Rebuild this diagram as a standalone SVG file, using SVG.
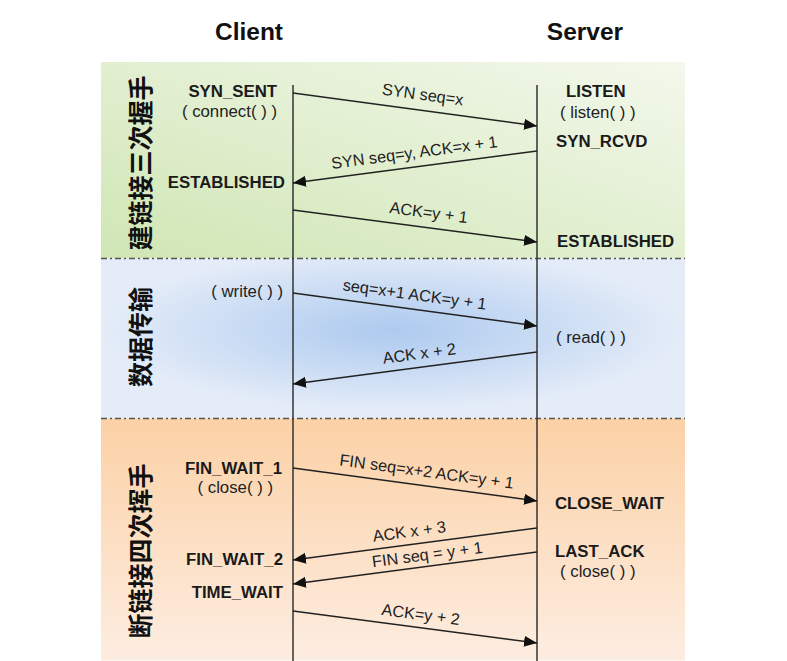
<svg xmlns="http://www.w3.org/2000/svg" width="787" height="661" viewBox="0 0 787 661">
<style>
.title{font-family:"Liberation Sans",Arial,sans-serif;font-size:24.5px;font-weight:bold;fill:#111;text-anchor:middle}
.st{font-family:"Liberation Sans",Arial,sans-serif;font-size:16.8px;font-weight:bold;fill:#1a1a1a}
.fn{font-family:"Liberation Sans",Arial,sans-serif;font-size:16.8px;fill:#222}
.lbl{font-family:"Liberation Sans",Arial,sans-serif;font-size:16.3px;fill:#222;text-anchor:middle}
.cjk{font-family:"Noto Sans CJK SC","Noto Sans CJK TC",sans-serif;font-size:25px;font-weight:bold;fill:#111;text-anchor:middle;dominant-baseline:central}
.end{text-anchor:end}
.msg{stroke:#222;stroke-width:1.5;fill:none;marker-end:url(#ah)}
.life{stroke:#333;stroke-width:1.5}
.sep{stroke:#555;stroke-width:1.3;stroke-dasharray:6 3 2 3}
</style>
<defs>
<marker id="ah" markerUnits="userSpaceOnUse" markerWidth="14" markerHeight="12" refX="13" refY="5.5" orient="auto">
<path d="M0,0 L13,5.5 L0,11 z" fill="#111"/>
</marker>
<linearGradient id="gGreen" x1="1" y1="0" x2="0" y2="1">
<stop offset="0" stop-color="#f3f8ec"/>
<stop offset="1" stop-color="#d0e6b4"/>
</linearGradient>
<radialGradient id="gBlue" cx="0.5" cy="0.45" r="0.5">
<stop offset="0" stop-color="#adcaef"/>
<stop offset="1" stop-color="#e4ecf8"/>
</radialGradient>
<linearGradient id="gOrange" x1="0" y1="0" x2="0" y2="1">
<stop offset="0" stop-color="#fcd1a6"/>
<stop offset="1" stop-color="#fdede1"/>
</linearGradient>
</defs>

<g id="background">
<rect x="101" y="62" width="584" height="196.5" fill="url(#gGreen)"/>
<rect x="101" y="258.5" width="584" height="160" fill="url(#gBlue)"/>
<rect x="101" y="418.5" width="584" height="242" fill="url(#gOrange)"/>
<line class="sep" x1="101" y1="258.5" x2="685" y2="258.5"/>
<line class="sep" x1="101" y1="418.5" x2="685" y2="418.5"/>
</g>

<g id="phase-labels">
<text class="cjk" transform="translate(139,163) rotate(-90)">建链接三次握手</text>
<text class="cjk" transform="translate(139,337) rotate(-90)">数据传输</text>
<text class="cjk" transform="translate(139,551) rotate(-90)">断链接四次挥手</text>
</g>

<g id="client">
<text class="title" x="249" y="40">Client</text>
<line class="life" x1="293" y1="85" x2="293" y2="661"/>
<text class="st end" x="277" y="97">SYN_SENT</text>
<text class="fn end" x="277" y="117">( connect( ) )</text>
<text class="st end" x="285" y="188">ESTABLISHED</text>
<text class="fn end" x="283" y="297">( write( ) )</text>
<text class="st end" x="282" y="474">FIN_WAIT_1</text>
<text class="fn end" x="273" y="493">( close( ) )</text>
<text class="st end" x="283" y="565">FIN_WAIT_2</text>
<text class="st end" x="283" y="598">TIME_WAIT</text>
</g>

<g id="server">
<text class="title" x="585" y="40">Server</text>
<line class="life" x1="537" y1="85" x2="537" y2="661"/>
<text class="st" x="566" y="97">LISTEN</text>
<text class="fn" x="560" y="118">( listen( ) )</text>
<text class="st" x="556" y="147">SYN_RCVD</text>
<text class="st" x="557" y="247">ESTABLISHED</text>
<text class="fn" x="556" y="343">( read( ) )</text>
<text class="st" x="555" y="509">CLOSE_WAIT</text>
<text class="st" x="555" y="557">LAST_ACK</text>
<text class="fn" x="560" y="577">( close( ) )</text>
</g>

<g id="connectors">
<line class="msg" x1="293" y1="93" x2="537" y2="126"/>
<line class="msg" x1="537" y1="151" x2="293" y2="183"/>
<line class="msg" x1="293" y1="210" x2="537" y2="242"/>
<line class="msg" x1="293" y1="293" x2="537" y2="326"/>
<line class="msg" x1="537" y1="352" x2="293" y2="384"/>
<line class="msg" x1="293" y1="468" x2="537" y2="501"/>
<line class="msg" x1="537" y1="528" x2="293" y2="560"/>
<line class="msg" x1="537" y1="552" x2="293" y2="584"/>
<line class="msg" x1="293" y1="611" x2="537" y2="643"/>
<text class="lbl" transform="translate(422,100) rotate(7.7)">SYN seq=x</text>
<text class="lbl" transform="translate(415,158) rotate(-7.5)">SYN seq=y, ACK=x + 1</text>
<text class="lbl" transform="translate(428,218) rotate(7.5)">ACK=y + 1</text>
<text class="lbl" transform="translate(414,300) rotate(7.7)">seq=x+1 ACK=y + 1</text>
<text class="lbl" transform="translate(420,359) rotate(-7.5)">ACK x + 2</text>
<text class="lbl" transform="translate(426,477) rotate(7.7)">FIN seq=x+2 ACK=y + 1</text>
<text class="lbl" transform="translate(410,537) rotate(-7.5)">ACK x + 3</text>
<text class="lbl" transform="translate(428,560) rotate(-7.5)">FIN seq = y + 1</text>
<text class="lbl" transform="translate(420,620) rotate(7.5)">ACK=y + 2</text>
</g>
</svg>
